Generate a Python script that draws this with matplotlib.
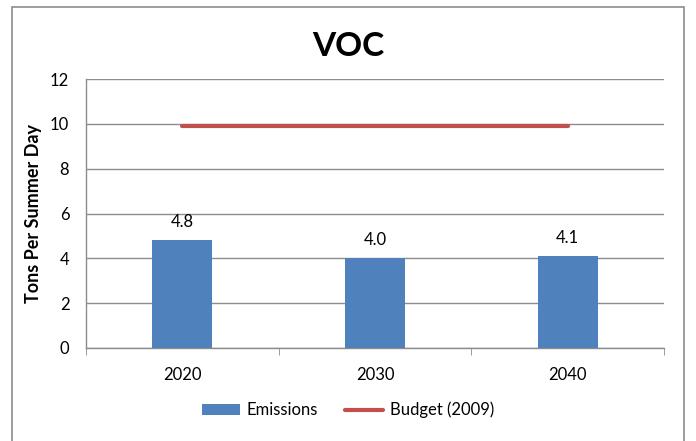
import numpy as np
import matplotlib.pyplot as plt
from matplotlib.patches import Rectangle

# chart data
years = ["2020", "2030", "2040"]
emissions = [4.8, 4.0, 4.1]
budget = [9.9, 9.9, 9.9]

plt.rcParams['font.family'] = ['Lato', 'DejaVu Sans']

fig = plt.figure(figsize=(6.96, 4.41), dpi=100)
ax = fig.add_axes([86 / 696, 93 / 441, 578 / 696, 269 / 441])

# outer chart frame like the spreadsheet export
fig.patches.append(Rectangle((12 / 696, -0.05), 672 / 696, 1.05 - 7 / 441,
                             transform=fig.transFigure, fill=False,
                             edgecolor='#8c8c8c', linewidth=1.2))

x = np.arange(len(years))
bars = ax.bar(x, emissions, width=0.31, color='#4f81bd', label='Emissions', zorder=3)
line, = ax.plot(x, budget, color='#c0504d', linewidth=3, solid_capstyle='round',
                label='Budget (2009)', zorder=4)

for xi, v in zip(x, emissions):
    ax.text(xi, v + 0.45, f"{v:.1f}", ha='center', va='bottom', fontsize=12)

ax.set_xlim(-0.5, len(years) - 0.5)
ax.set_ylim(0, 12)
ax.set_yticks(range(0, 13, 2))
ax.set_xticks(x)
ax.set_xticklabels(years)
ax.set_xticks(np.arange(-0.5, len(years)), minor=True)
ax.tick_params(axis='x', which='major', length=0, pad=14, labelsize=12)
ax.tick_params(axis='x', which='minor', length=5, color='#8c8c8c', direction='out')
ax.tick_params(axis='y', length=0, pad=12, labelsize=12)

ax.grid(axis='y', color='#8c8c8c', linewidth=1, zorder=0)
for side in ['top', 'right']:
    ax.spines[side].set_visible(False)
for side in ['left', 'bottom']:
    ax.spines[side].set_color('#8c8c8c')
    ax.spines[side].set_linewidth(1)

ax.set_ylabel('Tons Per Summer Day', fontsize=13, fontweight='bold', labelpad=6)
fig.text(0.5, 0.895, 'VOC', ha='center', va='center', fontsize=24, fontweight='bold')

fig.legend([bars, line], ['Emissions', 'Budget (2009)'], loc='center',
           bbox_to_anchor=(0.5, 0.07), ncol=2, frameon=False,
           fontsize=12, handlelength=2.3, handleheight=0.6, handletextpad=0.4,
           columnspacing=1.6)

fig.savefig('out.png', dpi=100)
